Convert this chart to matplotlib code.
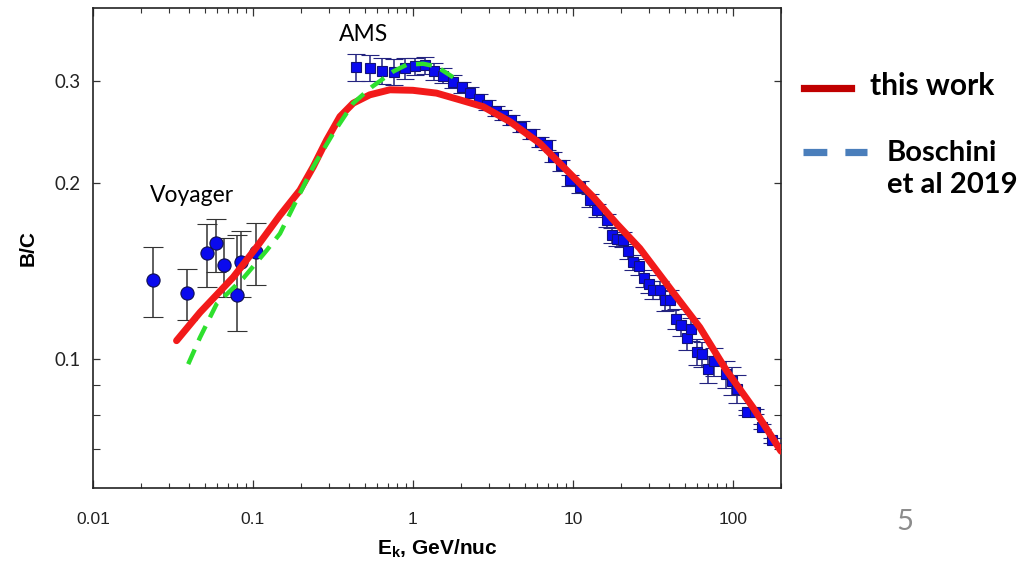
import numpy as np
import matplotlib
matplotlib.use("Agg")
import matplotlib.pyplot as plt
from matplotlib.lines import Line2D
from matplotlib.ticker import FixedLocator, NullFormatter, LogLocator


# Voyager points (Ek in GeV/nuc, B/C) with lower / upper error ends
voyager_ek = [0.0236, 0.0388, 0.0518, 0.0585, 0.0663, 0.0791, 0.0838, 0.105]
voyager_bc = [0.1366, 0.1296, 0.1518, 0.158, 0.1446, 0.1287, 0.1465, 0.1527]
voyager_lo = [0.1178, 0.1167, 0.1327, 0.1408, 0.1275, 0.1117, 0.1274, 0.1336]
voyager_hi = [0.1555, 0.1425, 0.1706, 0.174, 0.1614, 0.163, 0.1655, 0.1713]

# AMS points
ams_ek = [
    0.4406, 0.538, 0.637, 0.760, 0.891, 1.029, 1.189, 1.353, 1.546, 1.786,
    2.015, 2.287, 2.585, 2.923, 3.303, 3.666, 4.098, 4.732, 5.464, 6.22,
    6.85, 7.53, 8.49, 9.58, 11.06, 12.77, 14.06, 16.25, 17.45, 18.75,
    20.6, 22.2, 23.8, 25.9, 27.8, 30.0, 31.8, 35.0, 37.6, 40.4,
    44.0, 47.1, 51.4, 54.4, 59.6, 64.4, 70.1, 76.1, 90.4, 98.2,
    106.4, 121.8, 137.3, 152.8, 174.6,
]
ams_bc = [
    0.3166, 0.3158, 0.3121, 0.3108, 0.3152, 0.3177, 0.3190, 0.3115, 0.3060, 0.2991,
    0.2923, 0.2863, 0.2787, 0.2728, 0.2663, 0.2621, 0.2570, 0.2504, 0.2431, 0.2358,
    0.2328, 0.2222, 0.2150, 0.2026, 0.1972, 0.1871, 0.1798, 0.1728, 0.1628, 0.1607,
    0.1601, 0.1529, 0.1463, 0.1440, 0.1374, 0.1345, 0.1313, 0.1313, 0.1259, 0.1262,
    0.1171, 0.1144, 0.1086, 0.1125, 0.1028, 0.1019, 0.0960, 0.0990, 0.0941, 0.0917,
    0.0888, 0.0810, 0.0811, 0.0764, 0.0725,
]
ams_relerr = [
    0.052, 0.052, 0.05, 0.05, 0.04, 0.035, 0.035, 0.035, 0.03, 0.025,
    0.022, 0.022, 0.02, 0.02, 0.02, 0.02, 0.02, 0.02, 0.02, 0.02,
    0.02, 0.02, 0.022, 0.022, 0.022, 0.025, 0.025, 0.025, 0.028, 0.028,
    0.03, 0.03, 0.03, 0.032, 0.032, 0.035, 0.035, 0.035, 0.04, 0.04,
    0.04, 0.045, 0.045, 0.045, 0.05, 0.05, 0.055, 0.055, 0.055, 0.055,
    0.055, 0.01, 0.01, 0.01, 0.01,
]

# "this work" model curve
work_ek = [
    0.0333, 0.0467, 0.0753, 0.1055, 0.1476, 0.1968, 0.2383, 0.2891, 0.350,
    0.4236, 0.538, 0.718, 1.0, 1.406, 1.967, 2.75, 4.04, 6.22, 9.14,
    13.4, 18.75, 26.2, 42.4, 62.2, 91.4, 134.0, 200.0,
]
work_bc = [
    0.1074, 0.1201, 0.1380, 0.1555, 0.1763, 0.1947, 0.2136, 0.2374, 0.2604,
    0.2746, 0.2838, 0.2895, 0.2889, 0.2857, 0.2782, 0.2708, 0.2553, 0.2343, 0.2107,
    0.1896, 0.1706, 0.1547, 0.1299, 0.1132, 0.0954, 0.0824, 0.0694,
]

# Boschini et al 2019 curve
bosch_ek = [
    0.0394, 0.0467, 0.0593, 0.0869, 0.122, 0.1476, 0.1787, 0.2383,
    0.3177, 0.4236, 0.552, 0.753, 0.915, 1.159, 1.406, 1.786,
]
bosch_bc = [
    0.0979, 0.1088, 0.1242, 0.1374, 0.1535, 0.164, 0.1823, 0.2136,
    0.2438, 0.2746, 0.2926, 0.3112, 0.3197, 0.3209, 0.3174, 0.3041,
]

x_ticks = [0.01, 0.1, 1, 10, 100]
x_tick_labels = ["0.01", "0.1", "1", "10", "100"]
y_ticks = [0.1, 0.2, 0.3]
y_tick_labels = ["0.1", "0.2", "0.3"]
y_minor_ticks = [0.07, 0.08, 0.09]


def main():

    fig = plt.figure(figsize=(10.34, 5.66), dpi=100)
    ax = fig.add_axes([0.0899, 0.1378, 0.6654, 0.8481])

    ax.set_xscale("log")
    ax.set_yscale("log")
    ax.set_xlim(0.01, 200)
    ax.set_ylim(0.06, 0.4)

    # data
    v_bc = np.array(voyager_bc)
    v_err = [v_bc - np.array(voyager_lo), np.array(voyager_hi) - v_bc]
    ax.errorbar(
        voyager_ek, voyager_bc, yerr=v_err,
        fmt="o", ms=9.5, mfc="#0a0aee", mec="#101050", mew=0.8,
        ecolor="#333333", elinewidth=1.1, capsize=7, capthick=1.1,
        zorder=3,
    )

    a_bc = np.array(ams_bc)
    a_err = a_bc * np.array(ams_relerr)
    ax.errorbar(
        ams_ek, ams_bc, yerr=a_err,
        fmt="s", ms=7, mfc="#0a0af0", mec="#12127a", mew=0.8,
        ecolor="#23237f", elinewidth=1.1, capsize=6.5, capthick=1.1,
        zorder=3,
    )

    # models
    ax.plot(work_ek, work_bc, color="#f21a1a", lw=5, solid_capstyle="round",
            solid_joinstyle="round", zorder=4)
    ax.plot(bosch_ek, bosch_bc, color="#2ee02e", lw=3.2, dashes=(3.6, 2.2),
            zorder=5)

    # ticks
    ax.xaxis.set_major_locator(FixedLocator(x_ticks))
    ax.set_xticklabels(x_tick_labels, family="Liberation Sans", fontsize=12.5,
                       color="#222222")
    ax.xaxis.set_minor_locator(LogLocator(base=10, subs=np.arange(2, 10)))
    ax.xaxis.set_minor_formatter(NullFormatter())

    ax.yaxis.set_major_locator(FixedLocator(y_ticks))
    ax.set_yticklabels(y_tick_labels, family="Lato", fontsize=13.5,
                       color="#222222")
    ax.yaxis.set_minor_locator(FixedLocator(y_minor_ticks))
    ax.yaxis.set_minor_formatter(NullFormatter())

    ax.tick_params(axis="x", which="major", direction="in", top=True,
                   length=6, width=0.9, pad=17, color="#333333")
    ax.tick_params(axis="x", which="minor", direction="in", top=True,
                   length=3.5, width=0.8, color="#333333")
    ax.tick_params(axis="y", which="major", direction="in", right=True,
                   length=5, width=0.9, pad=9, color="#333333")
    ax.tick_params(axis="y", which="minor", direction="in", right=True,
                   length=5, width=0.8, color="#333333")

    for spine in ax.spines.values():
        spine.set_linewidth(1.2)
        spine.set_color("#222222")

    ax.set_xlabel("E$_\\mathregular{k}$, GeV/nuc", family="Liberation Sans",
                  fontweight="bold", fontsize=15, labelpad=8)
    ax.set_ylabel("B/C", family="Liberation Sans", fontweight="bold",
                  fontsize=15, labelpad=12)

    ax.text(0.345, 0.345, "AMS", family="Lato", fontsize=16.5,
            ha="left", va="bottom")
    ax.text(0.0227, 0.183, "Voyager", family="Lato", fontsize=16.5,
            ha="left", va="bottom")

    # slide legend
    W, H = 1034, 566
    fig.add_artist(Line2D([804 / W, 851 / W], [1 - 88 / H, 1 - 88 / H],
                          color="#c00000", lw=5.2))
    fig.text(870 / W, 1 - 86 / H, "this work", family="Lato",
             fontweight="bold", fontsize=21.5, va="center", ha="left")
    fig.add_artist(Line2D([803 / W, 867 / W], [1 - 152 / H, 1 - 152 / H],
                          color="#4a7ebb", lw=5.2, dashes=(3.3, 2.5)))
    fig.text(887 / W, 1 - 169 / H, "Boschini\net al 2019", family="Lato",
             fontweight="bold", fontsize=21, va="center", ha="left",
             linespacing=1.3)

    fig.text(905 / W, 1 - 522 / H, "5", family="Lato", fontsize=21,
             color="#8c8c8c", ha="center", va="center")

    fig.savefig("out.png", dpi=100)


if __name__ == "__main__":

    main()
